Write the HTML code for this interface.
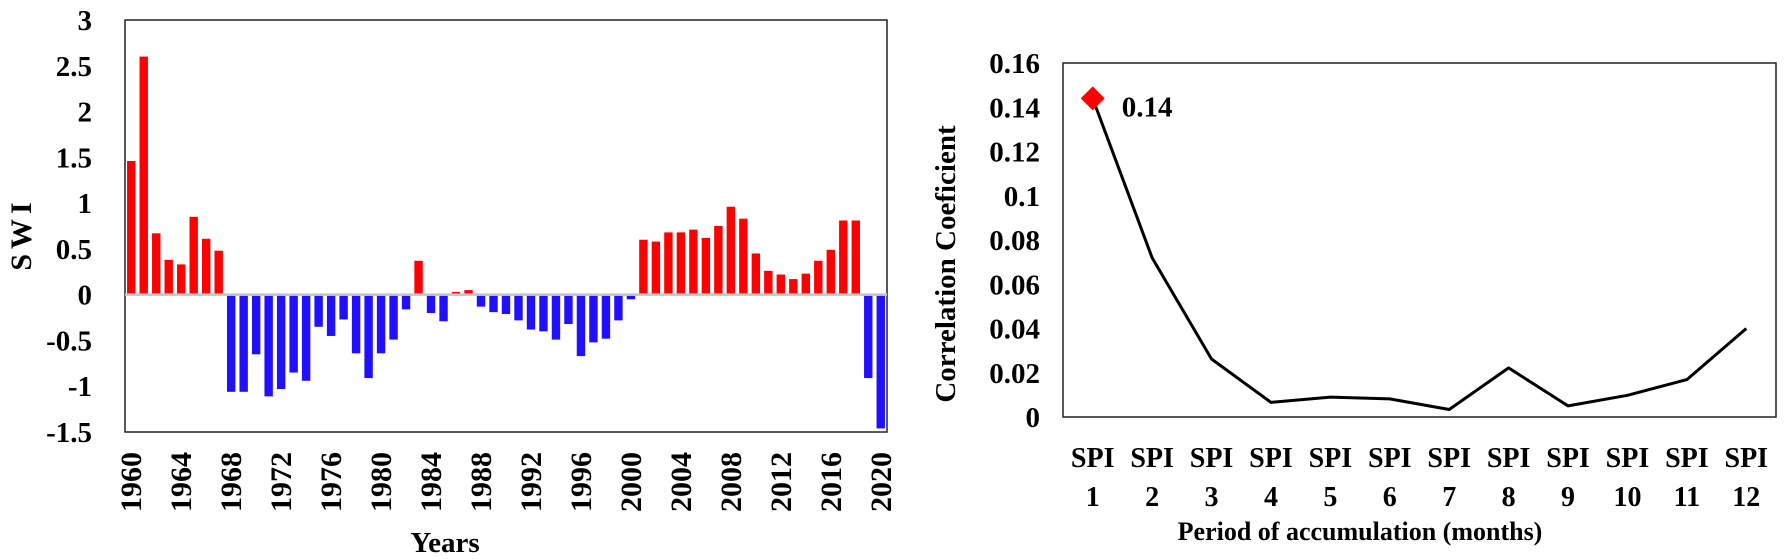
<!DOCTYPE html>
<html><head><meta charset="utf-8"><style>
html,body{margin:0;padding:0;background:#fff;}
svg{display:block;font-family:"Liberation Serif",serif;font-weight:bold;}
</style></head><body>
<svg id="chart" width="1784" height="559" viewBox="0 0 1784 559" xmlns="http://www.w3.org/2000/svg">
<g id="left"></g>
<g id="right"></g>
</svg>
<script>
const years = [];
for (let y = 1960; y <= 2020; y++) years.push(y);
const swiValues = [1.46,2.60,0.67,0.38,0.33,0.85,0.61,0.48,-1.05,-1.05,-0.64,-1.10,-1.02,-0.84,-0.93,-0.34,-0.44,-0.26,-0.63,-0.90,-0.63,-0.48,-0.15,0.37,-0.19,-0.28,0.03,0.05,-0.12,-0.18,-0.20,-0.27,-0.37,-0.39,-0.48,-0.31,-0.66,-0.51,-0.47,-0.27,-0.04,0.60,0.58,0.68,0.68,0.71,0.62,0.75,0.96,0.83,0.45,0.26,0.22,0.17,0.23,0.37,0.49,0.81,0.81,-0.90,-1.45];
const swiTicks = [3,2.5,2,1.5,1,0.5,0,-0.5,-1,-1.5];
const yearLabels = [1960,1964,1968,1972,1976,1980,1984,1988,1992,1996,2000,2004,2008,2012,2016,2020];

const spiCategories = ["1","2","3","4","5","6","7","8","9","10","11","12"];
const corrValues = [0.144,0.072,0.0262,0.0066,0.009,0.0082,0.0034,0.0222,0.005,0.0098,0.0169,0.040];
const corrTicks = [0.16,0.14,0.12,0.1,0.08,0.06,0.04,0.02,0];
const corrTickLabels = ["0.16","0.14","0.12","0.1","0.08","0.06","0.04","0.02","0"];

const NS = "http://www.w3.org/2000/svg";
function mk(parent, tag, attrs, text) {
  const e = document.createElementNS(NS, tag);
  for (const k in attrs) e.setAttribute(k, attrs[k]);
  if (text !== undefined) e.textContent = text;
  parent.appendChild(e);
  return e;
}

// ---- Left chart ----
const L = document.getElementById("left");
const lx0 = 125, lx1 = 887, ly0 = 20, ly1 = 432;
const yMin = -1.5, yMax = 3;
const ly = v => ly1 - (v - yMin) / (yMax - yMin) * (ly1 - ly0);
const slot = (lx1 - lx0) / years.length;
const lxc = i => lx0 + slot * (i + 0.5);

let frame = mk(L, "rect", {x: lx0, y: ly0, width: lx1 - lx0, height: ly1 - ly0, fill: "none", stroke: "#222", "stroke-width": 1.5});



swiValues.forEach((v, i) => {
  const y0 = ly(0), yv = ly(v);
  const r = mk(L, "rect", {x: lxc(i) - 4.2, y: v >= 0 ? yv : y0 + 1, width: 8.4, height: Math.max(1.5, Math.abs(yv - y0)), fill: v >= 0 ? "#ff0000" : "#2010ff"});
  
  
});
let zl = mk(L, "line", {x1: lx0, x2: lx1, y1: ly(0), y2: ly(0), stroke: "#c4c4c4", "stroke-width": 2.5});



swiTicks.forEach(t => {
  const tx = mk(L, "text", {x: 92, y: ly(t) + 10, "text-anchor": "end", "font-size": 29}, String(t));
  
  
});
yearLabels.forEach(yr => {
  const i = years.indexOf(yr);
  const x = lxc(i) + 10, y = 452;
  const tx = mk(L, "text", {x: x, y: y, "text-anchor": "end", "font-size": 30, transform: `rotate(-90 ${x} ${y})`}, String(yr));
  
  
});
let yt = mk(L, "text", {x: 31, y: 234, "text-anchor": "middle", "font-size": 30, "letter-spacing": 5, transform: "rotate(-90 31 234)"}, "SWI");


let xt = mk(L, "text", {x: 445, y: 552, "text-anchor": "middle", "font-size": 29}, "Years");



// ---- Right chart ----
const R = document.getElementById("right");
const rx0 = 1063, rx1 = 1776, ry0 = 63, ry1 = 417;
const cMax = 0.16;
const ry = v => ry1 - v / cMax * (ry1 - ry0);
const cslot = (rx1 - rx0) / spiCategories.length;
const rxc = i => rx0 + cslot * (i + 0.5);

let rf = mk(R, "rect", {x: rx0, y: ry0, width: rx1 - rx0, height: ry1 - ry0, fill: "none", stroke: "#222", "stroke-width": 1.5});



corrTicks.forEach((t, k) => {
  const tx = mk(R, "text", {x: 1040, y: ry(t) + 10, "text-anchor": "end", "font-size": 29}, corrTickLabels[k]);
  
  
});
const pts = corrValues.map((v, i) => rxc(i).toFixed(1) + "," + ry(v).toFixed(1)).join(" ");
let ln = mk(R, "polyline", {points: pts, fill: "none", stroke: "#000", "stroke-width": 3, "stroke-linejoin": "round"});


const mx = rxc(0), my = ry(corrValues[0]);
let mkr = mk(R, "polygon", {points: `${mx},${my-12} ${mx+12},${my} ${mx},${my+12} ${mx-12},${my}`, fill: "#ff0000"});


let ml = mk(R, "text", {x: mx + 29, y: my + 18, "font-size": 29}, corrValues[0].toFixed(2));



spiCategories.forEach((c, i) => {
  const t1 = mk(R, "text", {x: rxc(i), y: 467, "text-anchor": "middle", "font-size": 28}, "SPI");
  
  
  const t2 = mk(R, "text", {x: rxc(i), y: 506, "text-anchor": "middle", "font-size": 28}, c);
  
  
});
let ryt = mk(R, "text", {x: 955, y: 264, "text-anchor": "middle", "font-size": 29, transform: "rotate(-90 955 264)"}, "Correlation Coeficient");


let rxt = mk(R, "text", {x: 1360, y: 540, "text-anchor": "middle", "font-size": 26}, "Period of accumulation (months)");


</script>
</body></html>
